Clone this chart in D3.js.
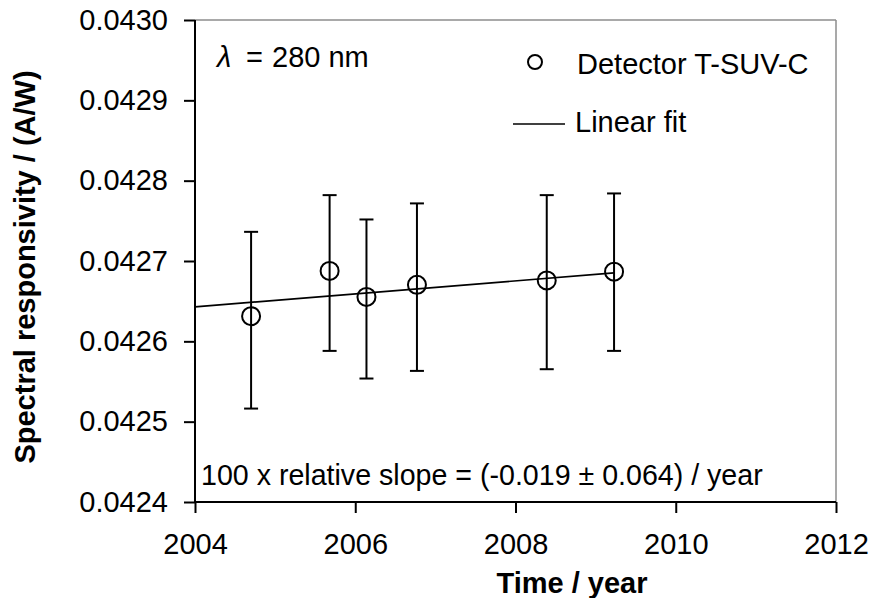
<!DOCTYPE html>
<html><head><meta charset="utf-8">
<script src="https://cdn.jsdelivr.net/npm/d3@7"></script>
<style>
body{margin:0;background:#fff;}
svg{display:block;font-family:"Liberation Sans",Arial,sans-serif;}
</style></head>
<body><svg id="c" width="871" height="598"></svg>
<script>
const years = [2004.70, 2005.68, 2006.14, 2006.77, 2008.39, 2009.23];
const responsivity = [0.0426313, 0.0426877, 0.0426553, 0.0426703, 0.0426758, 0.0426867];
const upperBound = [0.0427363, 0.0427820, 0.0427517, 0.0427717, 0.0427820, 0.0427841];
const lowerBound = [0.0425163, 0.0425881, 0.0425537, 0.0425632, 0.0425653, 0.0425881];
const fitYears = [2004, 2009.23];
const fitValues = [0.0426429, 0.0426852];
const xTicks = [2004, 2006, 2008, 2010, 2012];
const yTicks = [0.0424, 0.0425, 0.0426, 0.0427, 0.0428, 0.0429, 0.0430];

const svg = d3.select("#c");
const L = 195, R = 836, T = 20, B = 502;
const x = d3.scaleLinear().domain([2004, 2012]).range([L, R]);
const y = d3.scaleLinear().domain([0.0424, 0.0430]).range([B, T]);
const FS = 29;

// frame (gray top/right)
svg.append("line").attr("x1", L).attr("x2", R).attr("y1", T).attr("y2", T).attr("stroke", "#8c8c8c").attr("stroke-width", 1.5);
svg.append("line").attr("x1", R).attr("x2", R).attr("y1", T).attr("y2", B).attr("stroke", "#8c8c8c").attr("stroke-width", 1.5);

// axes
const yAxis = svg.append("g").attr("transform", `translate(${L},0)`)
  .call(d3.axisLeft(y).tickValues(yTicks).tickFormat(d3.format(".4f")).tickSize(11).tickPadding(16));
const xAxis = svg.append("g").attr("transform", `translate(0,${B})`)
  .call(d3.axisBottom(x).tickValues(xTicks).tickFormat(d3.format("d")).tickSize(11).tickPadding(20));
[yAxis, xAxis].forEach(g => {
  g.select(".domain").attr("stroke", "#000").attr("stroke-width", 2);
  g.selectAll(".tick line").attr("stroke", "#000").attr("stroke-width", 2);
  g.selectAll(".tick text").attr("fill", "#000").attr("font-size", FS).attr("font-family", "Liberation Sans, Arial, sans-serif");
});
yAxis.select(".domain").attr("d", `M0,${T}V${B}`);
xAxis.select(".domain").attr("d", `M${L},0H${R}`);

// fit line
svg.append("path")
  .attr("d", d3.line().x(d => x(d[0])).y(d => y(d[1]))(fitYears.map((v, i) => [v, fitValues[i]])))
  .attr("stroke", "#000").attr("stroke-width", 1.6).attr("fill", "none");

// error bars
const pts = years.map((v, i) => ({x: v, y: responsivity[i], hi: upperBound[i], lo: lowerBound[i]}));
const eb = svg.append("g").attr("stroke", "#000").attr("stroke-width", 2);
pts.forEach(p => {
  eb.append("line").attr("x1", x(p.x)).attr("x2", x(p.x)).attr("y1", y(p.hi)).attr("y2", y(p.lo));
  eb.append("line").attr("x1", x(p.x) - 7).attr("x2", x(p.x) + 7).attr("y1", y(p.hi)).attr("y2", y(p.hi));
  eb.append("line").attr("x1", x(p.x) - 7).attr("x2", x(p.x) + 7).attr("y1", y(p.lo)).attr("y2", y(p.lo));
});
svg.append("g").selectAll("circle").data(pts).join("circle")
  .attr("cx", d => x(d.x)).attr("cy", d => y(d.y)).attr("r", 9)
  .attr("fill", "none").attr("stroke", "#000").attr("stroke-width", 2);

// annotations
const lam = svg.append("text").attr("y", 67).attr("font-size", FS).attr("fill", "#000");
lam.append("tspan").attr("x", 217).attr("font-style", "italic").text("λ");
lam.append("tspan").attr("x", 246).text("=");
lam.append("tspan").attr("x", 272).text("280 nm");
svg.append("text").attr("x", 201).attr("y", 485).attr("font-size", 28.6).attr("fill", "#000")
  .text("100 x relative slope = (-0.019 ± 0.064) / year");

// legend
svg.append("circle").attr("cx", 535).attr("cy", 62).attr("r", 7).attr("fill", "none").attr("stroke", "#000").attr("stroke-width", 2);
svg.append("text").attr("x", 577).attr("y", 74).attr("font-size", FS).attr("fill", "#000").text("Detector T-SUV-C");
svg.append("line").attr("x1", 513).attr("x2", 565).attr("y1", 124).attr("y2", 124).attr("stroke", "#000").attr("stroke-width", 1.6);
svg.append("text").attr("x", 575).attr("y", 132).attr("font-size", FS).attr("fill", "#000").text("Linear fit");

// axis titles
svg.append("text").attr("x", 572).attr("y", 593).attr("text-anchor", "middle").attr("font-size", FS).attr("font-weight", "bold").attr("fill", "#000").text("Time / year");
svg.append("text").attr("transform", `translate(35,267) rotate(-90)`).attr("text-anchor", "middle")
  .attr("font-size", FS).attr("font-weight", "bold").attr("fill", "#000").text("Spectral responsivity / (A/W)");
</script></body></html>
